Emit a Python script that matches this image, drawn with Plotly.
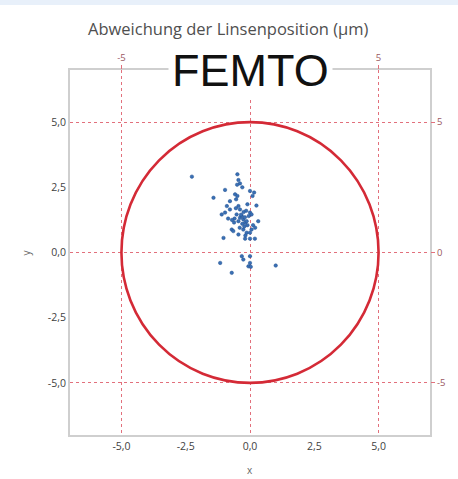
import plotly.graph_objects as go

title_text = "Abweichung der Linsenposition (µm)"
brand_text = "FEMTO"
radius = 5.0

x_ticks = [-5, -2.5, 0, 2.5, 5]
x_labels = ["-5,0", "-2,5", "0,0", "2,5", "5,0"]
y_ticks = [-5, -2.5, 0, 2.5, 5]
y_labels = ["-5,0", "-2,5", "0,0", "2,5", "5,0"]
sec_ticks = [-5, 0, 5]
sec_top_labels = ["-5", "", "5"]
sec_right_labels = ["-5", "0", "5"]

px = [-2.26, -0.49, -0.45, -0.39, -0.97, -1.42, 0.0, 0.16, 0.10, -0.58, -0.49, -0.54,
      -0.78, -0.90, -0.78, -0.97, -1.10, -0.45, -0.39, -0.52, -0.39, -0.26, -0.19, -0.13,
      -0.32, 0.00, 0.06, 0.32, -0.71, -0.65, -0.26, -0.13, 0.06, 0.00, -1.03, -0.45,
      -0.19, 0.00, 0.19, -1.16, -0.32, -0.26, 0.00, 0.00, -0.06, 0.03, -0.71, 1.00,
      -0.60, -0.35, -0.20, -0.10, -0.45, -0.30, -0.15, -0.55, -0.25, 0.12, -0.70, -0.05,
      -0.40, -0.22, -0.62, 0.20, -0.85, -0.30, -0.10, 0.25, -0.50, -0.18]
py = [2.91, 3.00, 2.78, 2.65, 2.40, 2.10, 2.36, 2.30, 2.17, 2.23, 2.17, 2.04,
      1.97, 1.78, 1.65, 1.53, 1.46, 1.78, 1.65, 1.46, 1.33, 1.27, 1.14, 1.20,
      1.40, 1.53, 1.46, 1.20, 0.88, 0.82, 0.88, 0.76, 0.88, 0.76, 0.56, 0.69,
      0.53, 0.53, 0.53, -0.40, -0.14, -0.27, -0.14, -0.40, -0.53, -0.55, -0.78, -0.50,
      1.30, 1.45, 1.35, 1.05, 1.20, 1.10, 1.60, 1.70, 1.55, 1.05, 1.25, 1.40,
      0.95, 1.00, 1.15, 0.95, 1.30, 2.50, 1.85, 1.80, 2.60, 0.65]

fig = go.Figure()
fig.add_trace(go.Scatter(x=px, y=py, mode="markers",
                         marker=dict(size=3.5, color="#3a70b5",
                                     line=dict(width=0.5, color="#1f4f8f")),
                         showlegend=False, hoverinfo="skip"))
fig.add_trace(go.Scatter(x=[0], y=[0], xaxis="x2", yaxis="y2", mode="markers",
                         marker=dict(opacity=0), showlegend=False, hoverinfo="skip"))

grid_col = "#e2707c"
frame_col = "#cfcfcf"
tick_font = dict(family="Open Sans, DejaVu Sans", size=10.5, color="#3f3f3f")
sec_font = dict(family="Open Sans, DejaVu Sans", size=9.5, color="#9a5a62")

fig.update_layout(
    width=458, height=479,
    margin=dict(l=70, r=28, t=70, b=44),
    paper_bgcolor="white", plot_bgcolor="white",
    separators=",.",
    xaxis=dict(range=[-7, 7], tickvals=x_ticks, ticktext=x_labels,
               showgrid=False, zeroline=False, showline=True, mirror=True,
               linecolor=frame_col, linewidth=2, ticks="", tickfont=tick_font),
    yaxis=dict(range=[-7, 7], tickvals=y_ticks, ticktext=y_labels,
               showgrid=False, zeroline=False, showline=True, mirror=True,
               linecolor=frame_col, linewidth=2, ticks="", tickfont=tick_font),
    xaxis2=dict(range=[-7, 7], overlaying="x", side="top", tickvals=sec_ticks,
                ticktext=sec_top_labels, showgrid=True, gridcolor=grid_col,
                griddash="dot", gridwidth=1.2, zeroline=False, showline=False,
                ticks="outside", ticklen=4, tickcolor=grid_col, tickfont=sec_font),
    yaxis2=dict(range=[-7, 7], overlaying="y", side="right", tickvals=sec_ticks,
                ticktext=sec_right_labels, showgrid=True, gridcolor=grid_col,
                griddash="dot", gridwidth=1.2, zeroline=False, showline=False,
                ticks="outside", ticklen=4, tickcolor=grid_col, tickfont=sec_font),
    shapes=[
        dict(type="circle", xref="x", yref="y", x0=-radius, y0=-radius,
             x1=radius, y1=radius, line=dict(color="#d42a36", width=2.6), layer="above"),
        dict(type="rect", xref="paper", yref="paper", x0=-0.3, x1=1.2,
             y0=1.178, y1=1.25, fillcolor="#e8f0fa", line=dict(width=0), layer="below"),
    ],
    annotations=[
        dict(text=title_text, xref="paper", yref="paper", x=0.44, y=1.115,
             xanchor="center", yanchor="middle", showarrow=False,
             font=dict(family="Open Sans, DejaVu Sans", size=16.5, color="#4f4f4f")),
        dict(text=brand_text, xref="paper", yref="paper", x=0.5, y=1.0,
             xanchor="center", yanchor="middle", showarrow=False, bgcolor="white",
             borderpad=3,
             font=dict(family="Liberation Sans, Arial", size=45, color="#111111")),
        dict(text="x", xref="paper", yref="paper", x=0.5, y=-0.096,
             xanchor="center", yanchor="middle", showarrow=False,
             font=dict(family="Open Sans, DejaVu Sans", size=10, color="#666666")),
        dict(text="y", xref="paper", yref="paper", x=-0.125, y=0.5, textangle=-90,
             xanchor="center", yanchor="middle", showarrow=False,
             font=dict(family="Open Sans, DejaVu Sans", size=10, color="#666666")),
    ],
)

fig.write_html("out.html")
